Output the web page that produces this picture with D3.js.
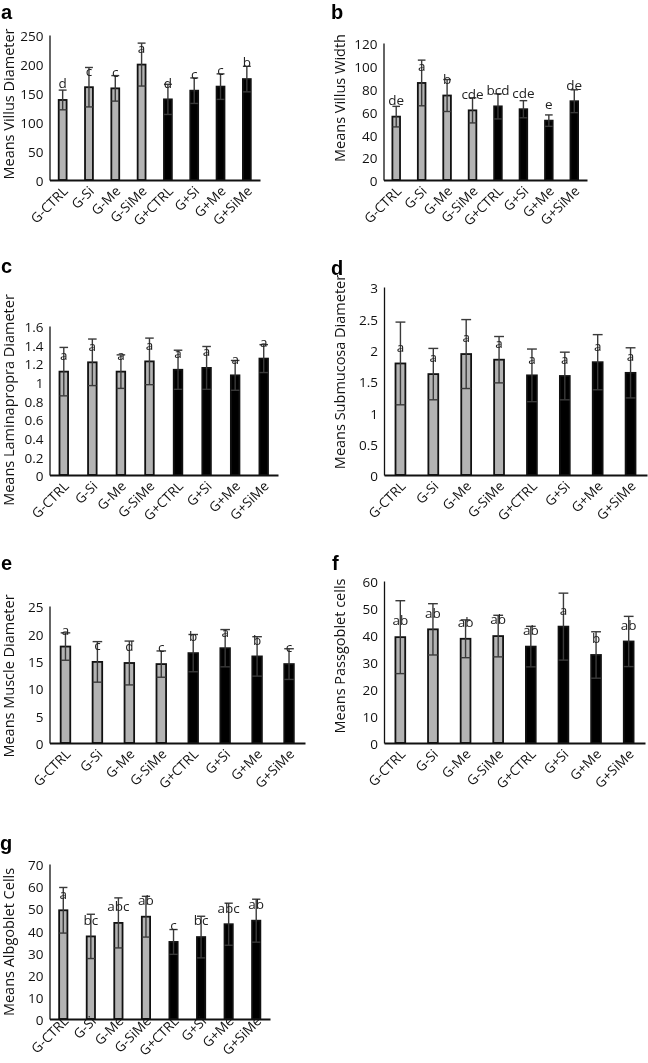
<!DOCTYPE html>
<html>
<head>
<meta charset="utf-8">
<script src="https://cdn.jsdelivr.net/npm/d3@7"></script>
<style>
  body { margin: 0; background: #fff; }
  svg { display: block; will-change: transform; }
</style>
</head>
<body>
<svg id="fig" width="648" height="1063"></svg>
<script>
// treatment groups, first four without G, last four with G
const groups = ["G-CTRL", "G-Si", "G-Me", "G-SiMe", "G+CTRL", "G+Si", "G+Me", "G+SiMe"];

// a — villus diameter
const villusDiamMean = [138, 160, 158, 199, 139, 154, 161, 174];
const villusDiamSD = [17, 34, 22, 37, 26, 22, 22, 22];
const villusDiamLetters = ["d", "c", "c", "a", "d", "c", "c", "b"];
const villusDiamTicks = [0, 50, 100, 150, 200, 250];

// b — villus width
const villusWidthMean = [55.5, 85, 74, 61, 64.5, 62, 52, 69];
const villusWidthSD = [9, 20, 14, 11, 11, 7.5, 5, 10];
const villusWidthLetters = ["de", "a", "b", "cde", "bcd", "cde", "e", "de"];
const villusWidthTicks = [0, 20, 40, 60, 80, 100, 120];

// c — lamina propria diameter
const laminaMean = [1.11, 1.21, 1.11, 1.22, 1.13, 1.15, 1.07, 1.25];
const laminaSD = [0.26, 0.25, 0.18, 0.25, 0.21, 0.23, 0.16, 0.15];
const laminaLetters = ["a", "a", "a", "a", "a", "a", "a", "a"];
const laminaTicks = [0, 0.2, 0.4, 0.6, 0.8, 1, 1.2, 1.4, 1.6];

// d — submucosa diameter
const submucosaMean = [1.78, 1.61, 1.93, 1.84, 1.59, 1.58, 1.8, 1.63];
const submucosaSD = [0.66, 0.41, 0.55, 0.37, 0.42, 0.38, 0.44, 0.4];
const submucosaLetters = ["a", "a", "a", "a", "a", "a", "a", "a"];
const submucosaTicks = [0, 0.5, 1, 1.5, 2, 2.5, 3];

// e — muscle diameter
const muscleMean = [17.6, 14.8, 14.6, 14.4, 16.4, 17.3, 15.8, 14.4];
const muscleSD = [2.5, 3.7, 4.0, 2.4, 3.4, 3.4, 3.6, 2.8];
const muscleLetters = ["a", "c", "d", "c", "b", "a", "b", "c"];
const muscleTicks = [0, 5, 10, 15, 20, 25];

// f — PAS goblet cells
const pasMean = [39.2, 42.1, 38.6, 39.6, 35.7, 43.1, 32.6, 37.6];
const pasSD = [13.5, 9.5, 7, 7.7, 7.5, 12.4, 8.6, 9.3];
const pasLetters = ["ab", "ab", "ab", "ab", "ab", "a", "b", "ab"];
const pasTicks = [0, 10, 20, 30, 40, 50, 60];

// g — alcian blue goblet cells
const abMean = [49.1, 37.3, 43.4, 46.2, 34.8, 37.0, 42.8, 44.4];
const abSD = [10.3, 10, 11.3, 9.2, 5.6, 9.4, 9.5, 9.7];
const abLetters = ["a", "bc", "abc", "ab", "c", "bc", "abc", "ab"];
const abTicks = [0, 10, 20, 30, 40, 50, 60, 70];

const FONT = "'Open Sans', sans-serif";
const GREY = "#b3b3b3";

const panels = [
  { tag: "a", title: "Means Villus Diameter", mean: villusDiamMean, sd: villusDiamSD, letters: villusDiamLetters, ticks: villusDiamTicks,
    x0: 49.5, x1: 260, y0: 180, y1: 35, titleX: 9, titleY: 104, tagX: 1, tagY: 19, lblY: 12 },
  { tag: "b", title: "Means Villus Width", mean: villusWidthMean, sd: villusWidthSD, letters: villusWidthLetters, ticks: villusWidthTicks,
    x0: 383.5, x1: 587, y0: 180, y1: 43, titleX: 340, titleY: 98, tagX: 331, tagY: 19, lblY: 12 },
  { tag: "c", title: "Means Laminapropra Diameter", mean: laminaMean, sd: laminaSD, letters: laminaLetters, ticks: laminaTicks,
    x0: 49.5, x1: 278, y0: 475, y1: 326, titleX: 9, titleY: 400, tagX: 1, tagY: 273, lblY: 12 },
  { tag: "d", title: "Means Submucosa Diameter", mean: submucosaMean, sd: submucosaSD, letters: submucosaLetters, ticks: submucosaTicks,
    x0: 384, x1: 647, y0: 475, y1: 287, titleX: 340, titleY: 372, tagX: 331, tagY: 275, lblY: 12 },
  { tag: "e", title: "Means Muscle Diameter", mean: muscleMean, sd: muscleSD, letters: muscleLetters, ticks: muscleTicks,
    x0: 49.5, x1: 305, y0: 743, y1: 606, titleX: 9, titleY: 676, tagX: 1, tagY: 570, lblY: 12 },
  { tag: "f", title: "Means Passgoblet cells", mean: pasMean, sd: pasSD, letters: pasLetters, ticks: pasTicks,
    x0: 384, x1: 645, y0: 743, y1: 581, titleX: 340, titleY: 656, tagX: 332, tagY: 570, lblY: 12 },
  { tag: "g", title: "Means Albgoblet Cells", mean: abMean, sd: abSD, letters: abLetters, ticks: abTicks,
    x0: 49.5, x1: 270, y0: 1019, y1: 864, titleX: 9, titleY: 942, tagX: 0, tagY: 850, lblY: 3 },
];

const svg = d3.select("#fig");
svg.append("rect").attr("width", 648).attr("height", 1063).attr("fill", "#fff");

panels.forEach((p) => {
  const g = svg.append("g").attr("class", "panel-" + p.tag);
  const rows = groups.map((name, i) => ({ name, i, mean: p.mean[i], sd: p.sd[i], letter: p.letters[i] }));

  const x = d3.scaleBand().domain(groups).range([p.x0, p.x1]).paddingInner(0.7).paddingOuter(0.35);
  const y = d3.scaleLinear().domain([0, d3.max(p.ticks)]).range([p.y0, p.y1]);
  const bw = x.bandwidth();

  // bars
  g.selectAll("rect.bar")
    .data(rows)
    .join("rect")
    .attr("class", "bar")
    .attr("x", (d) => x(d.name))
    .attr("y", (d) => y(d.mean))
    .attr("width", bw)
    .attr("height", (d) => p.y0 - y(d.mean))
    .attr("fill", (d) => (d.i < 4 ? GREY : "#000"))
    .attr("stroke", "#111")
    .attr("stroke-width", 1.8);

  // error bars
  const eb = g.selectAll("g.err").data(rows).join("g").attr("class", "err")
    .attr("stroke", "#3a3a3a").attr("stroke-width", 1.4);
  eb.append("line")
    .attr("x1", (d) => x(d.name) + bw / 2).attr("x2", (d) => x(d.name) + bw / 2)
    .attr("y1", (d) => y(d.mean - d.sd)).attr("y2", (d) => y(d.mean + d.sd));
  eb.append("line")
    .attr("x1", (d) => x(d.name)).attr("x2", (d) => x(d.name) + bw)
    .attr("y1", (d) => y(d.mean + d.sd)).attr("y2", (d) => y(d.mean + d.sd));
  eb.append("line")
    .attr("x1", (d) => x(d.name)).attr("x2", (d) => x(d.name) + bw)
    .attr("y1", (d) => y(d.mean - d.sd)).attr("y2", (d) => y(d.mean - d.sd));

  // significance letters, 16px above the bar top
  g.selectAll("text.sig")
    .data(rows)
    .join("text")
    .attr("class", "sig")
    .attr("x", (d) => x(d.name) + bw / 2)
    .attr("y", (d) => y(d.mean) - 16)
    .attr("dy", "0.32em")
    .attr("text-anchor", "middle")
    .attr("font-family", FONT)
    .attr("font-size", 13.5)
    .attr("fill", "#222")
    .text((d) => d.letter);

  // y axis
  const yAxis = g.append("g")
    .attr("transform", `translate(${p.x0},0)`)
    .call(d3.axisLeft(y).tickValues(p.ticks).tickSize(0).tickPadding(6).tickFormat((v) => String(v)));
  yAxis.select(".domain").attr("stroke", "#111").attr("stroke-width", 1.3);
  yAxis.selectAll("text")
    .attr("font-family", FONT)
    .attr("font-size", 13.5)
    .attr("fill", "#111")
    .attr("dy", "0.42em");

  // x axis
  const xAxis = g.append("g")
    .attr("transform", `translate(0,${p.y0})`)
    .call(d3.axisBottom(x).tickSize(0).tickSizeOuter(0));
  xAxis.select(".domain").attr("stroke", "#111").attr("stroke-width", 2);
  xAxis.selectAll("text")
    .attr("font-family", FONT)
    .attr("font-size", 13.5)
    .attr("fill", "#111")
    .attr("text-anchor", "end")
    .attr("dy", null)
    .attr("y", 0)
    .attr("transform", `translate(6,${p.lblY}) rotate(-45)`);

  // axis title
  g.append("text")
    .attr("transform", `translate(${p.titleX},${p.titleY}) rotate(-90)`)
    .attr("text-anchor", "middle")
    .attr("dy", "0.35em")
    .attr("font-family", FONT)
    .attr("font-size", 14.5)
    .attr("fill", "#111")
    .text(p.title);

  // panel tag
  g.append("text")
    .attr("x", p.tagX)
    .attr("y", p.tagY)
    .attr("font-family", "'Liberation Sans', Arial, sans-serif")
    .attr("font-weight", "bold")
    .attr("font-size", 20)
    .attr("fill", "#000")
    .text(p.tag);
});
</script>
</body>
</html>
